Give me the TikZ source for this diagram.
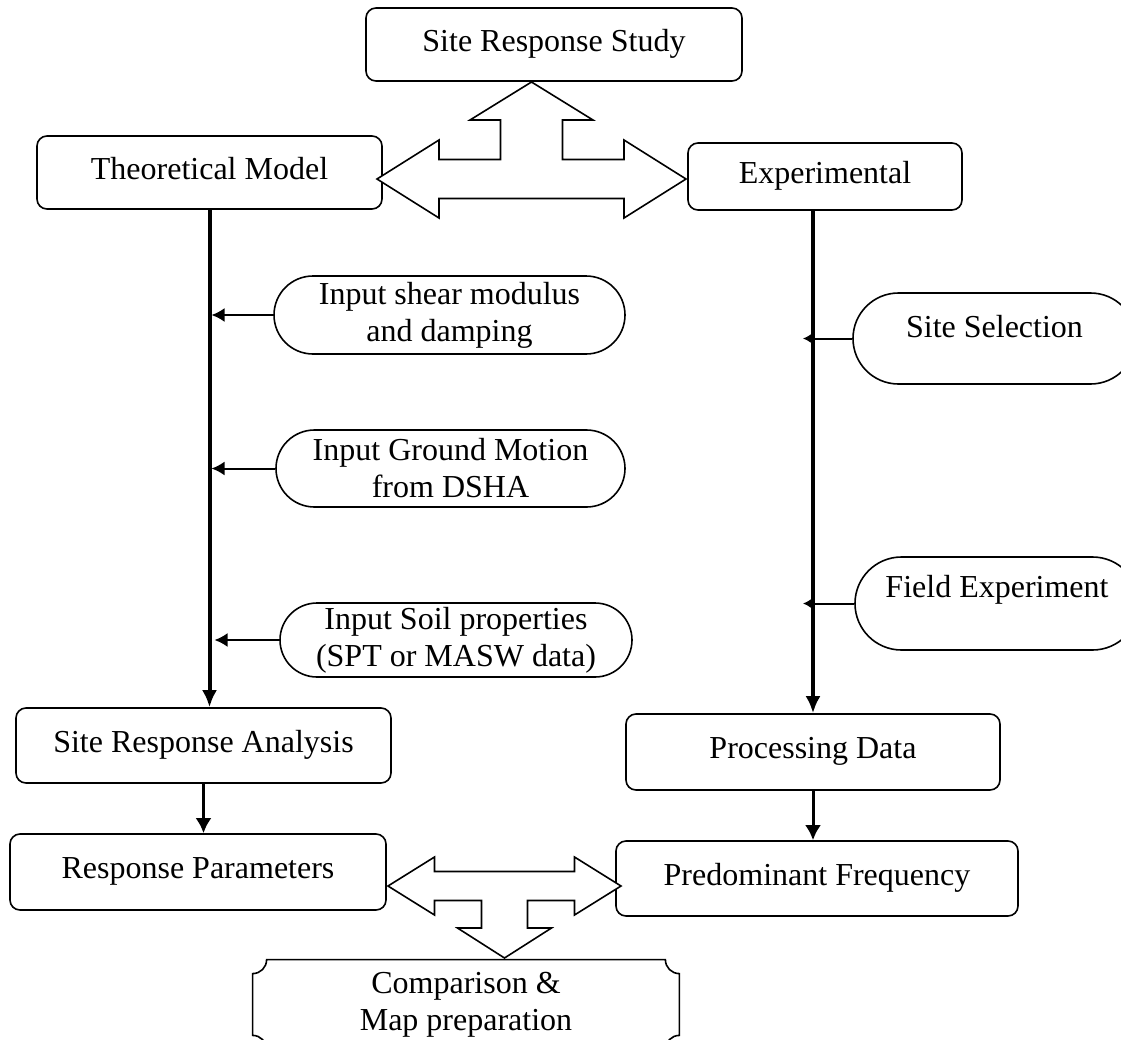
\documentclass[tikz,border=0pt]{standalone}
\usepackage{fontspec}
\setmainfont{Liberation Serif}
\usepackage{tikz}
\usetikzlibrary{arrows.meta,calc}

\tikzset{
  box/.style={draw, line width=0.8pt, rounded corners=5pt, fill=white,
    text height=0.9em, text depth=0.25em},
  term/.style={draw, line width=0.8pt, fill=white, align=center, inner ysep=1pt,
    minimum height=#1, rounded corners=#1/2},
  trunk/.style={line width=2pt, -{Latex[length=8.5pt,width=7.5pt]}},
  feed/.style={line width=1pt, -{Latex[length=6.5pt,width=7pt]}},
  sidefeed/.style={line width=1pt, -{Latex[length=5pt,width=6pt]}},
  link/.style={line width=1.5pt, -{Latex[length=7.5pt,width=8pt]}},
  bigarrow/.style={draw, line width=0.8pt, fill=white, line join=miter},
  plaque/.style={line width=0.8pt}
}

\begin{document}
\begin{tikzpicture}[x=0.5pt, y=-0.5pt, font=\fontsize{16}{18.5}\selectfont]
    \useasboundingbox (0,0) rectangle (1121,1040);
    \clip (0,0) rectangle (1121,1040);

    % main boxes
    \node[box, minimum width=188pt, minimum height=36.5pt] (study) at (554,44.5) {Site Response Study};
    \node[box, minimum width=172.5pt, minimum height=36.5pt] (theo) at (209.5,172.5) {Theoretical Model};
    \node[box, minimum width=137pt, minimum height=33.5pt] (exper) at (825,176.5) {Experimental};
    \node[box, minimum width=187.5pt, minimum height=37.5pt] (analysis) at (203.5,745.5) {Site Response Analysis};
    \node[box, minimum width=188pt, minimum height=38pt] (params) at (198,872) {Response Parameters};
    \node[box, minimum width=187pt, minimum height=38pt] (proc) at (813,752) {Processing Data};
    \node[box, minimum width=201pt, minimum height=37.5pt] (freq) at (817,878.5) {Predominant Frequency};

    % inputs
    \node[term=39pt, minimum width=175.5pt] (shear) at (449.5,315) {Input shear modulus\\and damping};
    \node[term=38.5pt, minimum width=174.5pt] (ground) at (450.5,468.5) {Input Ground Motion\\from DSHA};
    \node[term=37pt, minimum width=176pt] (soil) at (456,640) {Input Soil properties\\(SPT or MASW data)};
    \node[term=45.5pt, minimum width=141.5pt] (sitesel) at (994.5,338.5) {};
    \node (sitesel text) at ([yshift=5.75pt]sitesel.center) {Site Selection};
    \node[term=46.5pt, minimum width=142pt] (field) at (997,603.5) {};
    \node (field text) at ([yshift=6.75pt]field.center) {Field Experiment};

    % result
    \node[minimum width=213pt, minimum height=44.5pt, align=center] (comp) at (466,1004.5) {Comparison \&\\Map preparation};
    \draw[plaque] ([yshift=-7pt]comp.north west) .. controls +(3.9pt,0) and +(0,-3.9pt) .. ([xshift=7pt]comp.north west)
      -- ([xshift=-7pt]comp.north east) .. controls +(0,-3.9pt) and +(-3.9pt,0) .. ([yshift=-7pt]comp.north east)
      -- ([yshift=7pt]comp.south east) .. controls +(-3.9pt,0) and +(0,3.9pt) .. ([xshift=-7pt]comp.south east)
      -- ([xshift=7pt]comp.south west) .. controls +(0,3.9pt) and +(3.9pt,0) .. ([yshift=7pt]comp.south west)
      -- cycle;

    % trunks
    \draw[trunk] (theo.south) -- (theo.south |- analysis.north);
    \draw[trunk] (exper.south -| proc.north) -- (proc.north);
    \draw[feed, shorten >=1pt] (shear.west) -- (shear.west -| theo.south);
    \draw[feed, shorten >=1pt] (ground.west) -- (ground.west -| theo.south);
    \draw[feed, shorten >=2.5pt] (soil.west) -- (soil.west -| theo.south);
    \draw[sidefeed] (sitesel.west) -- ($(sitesel.west -| proc.north)+(-5pt,0)$);
    \draw[sidefeed] (field.west) -- ($(field.west -| proc.north)+(-5pt,0)$);
    \draw[link] (analysis.south) -- (analysis.south |- params.north);
    \draw[link] (proc.south) -- (proc.south |- freq.north);

    % block arrows
    \coordinate (hubtop) at (531.5,179);
    \draw[bigarrow, shift={(hubtop)}] (-154.5,0) -- (-92.5,-39) -- (-92.5,-19.5) -- (-31,-19.5)
      -- (-31,-59) -- (-61.5,-59) -- (0,-97) -- (61.5,-59) -- (31,-59) -- (31,-19.5)
      -- (92.5,-19.5) -- (92.5,-39) -- (154.5,0) -- (92.5,39) -- (92.5,19.5)
      -- (-92.5,19.5) -- (-92.5,39) -- cycle;
    \coordinate (hubbot) at (504.5,886);
    \draw[bigarrow, shift={(hubbot)}] (-116.5,0) -- (-70,-29) -- (-70,-14.5) -- (70,-14.5)
      -- (70,-29) -- (116.5,0) -- (70,29) -- (70,14.5) -- (23,14.5) -- (23,42)
      -- (47,42) -- (0,72) -- (-47,42) -- (-23,42) -- (-23,14.5) -- (-70,14.5)
      -- (-70,29) -- cycle;
\end{tikzpicture}
\end{document}
